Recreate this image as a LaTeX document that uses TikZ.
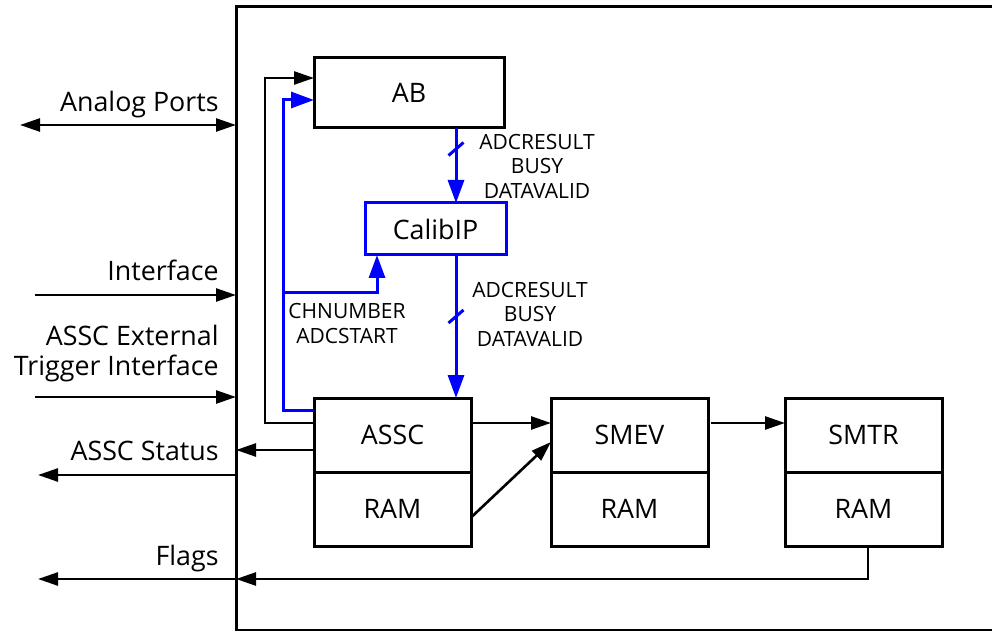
\documentclass[tikz,border=0pt]{standalone}
\usepackage{fontspec}
\setmainfont{Open Sans}
\usepackage{tikz}
\usetikzlibrary{positioning,arrows.meta}
\definecolor{SignalBlue}{HTML}{0000FF}
\definecolor{InkBlack}{HTML}{000000}
\newcommand{\blockfont}{\fontsize{13.4}{15}\selectfont}
\newcommand{\sigtagfont}{\fontsize{10.5}{12.25}\selectfont}

\tikzset{
  unitbox/.style={draw=InkBlack, line width=1.5pt, minimum width=78.5pt,
    minimum height=37pt, inner sep=0pt, outer sep=0pt, font=\blockfont},
  calibbox/.style={draw=SignalBlue, line width=1.5pt, minimum width=70.5pt,
    minimum height=26pt, inner sep=0pt, outer sep=0pt, font=\blockfont},
  sig/.style={draw=InkBlack, line width=1.3pt, -{Triangle[length=10pt,width=6.5pt]}},
  dualsig/.style={sig, {Triangle[length=10pt,width=6.5pt]}-{Triangle[length=10pt,width=6.5pt]}},
  bussig/.style={draw=SignalBlue, line width=1.5pt, -{Triangle[length=11.5pt,width=8pt]}},
  busline/.style={draw=SignalBlue, line width=1.5pt},
  portlabel/.style={anchor=base east, font=\blockfont, inner sep=0pt},
  sigtag/.style={font=\sigtagfont, align=center, inner sep=0pt},
}

\begin{document}
\begin{tikzpicture}[x=0.5pt, y=-0.5pt]
  \useasboundingbox (0,0) rectangle (992,631);

  % chip frame
  \draw[line width=1.5pt] (992,7) -- (236,7) -- (236,630) -- (992,630);

  % blocks
  \node[unitbox, minimum width=95pt, minimum height=35pt] (ab) at (409,93) {AB};
  \node[calibbox] (calib) at (435.5,229) {CalibIP};
  \node[unitbox] (assc) at (392.5,435) {ASSC};
  \node[unitbox, below=0pt of assc] (asscram) {RAM};
  \node[unitbox, right=40pt of assc] (smev) {SMEV};
  \node[unitbox, below=0pt of smev] (smevram) {RAM};
  \node[unitbox, right=38.5pt of smev] (smtr) {SMTR};
  \node[unitbox, below=0pt of smtr] (smtrram) {RAM};

  % ports on the frame
  \coordinate (pAnalog) at (236,125);
  \coordinate (pIface) at (236,295);
  \coordinate (pTrig) at (236,397);
  \coordinate (pStatus) at (236,475);
  \coordinate (pFlags) at (236,579);
  \coordinate (busx) at (456,0);
  \coordinate (tap) at (283,293);

  % outside labels
  \node[portlabel] (lblAnalog) at (219,112) {Analog Ports};
  \node[portlabel] (lblIface) at (219,280) {Interface};
  \node[portlabel, anchor=east, align=right] (lblTrig) at (219,354) {ASSC External\\Trigger Interface};
  \node[portlabel] (lblStatus) at (219,460) {ASSC Status};
  \node[portlabel] (lblFlags) at (219,565) {Flags};

  % outside connectors
  \draw[dualsig] (pAnalog) ++(-108pt,0) -- (pAnalog);
  \draw[sig] (pIface) ++(-100.5pt,0) -- (pIface);
  \draw[sig] (pTrig) ++(-100.5pt,0) -- (pTrig);
  \draw[sig] (pStatus) -- ++(-99pt,0);
  \draw[sig] (pFlags) -- ++(-99pt,0);

  % control to AB and CalibIP
  \draw[sig] ([yshift=6pt]assc.west) -- ++(-24.5pt,0) |- ([yshift=7.5pt]ab.west);
  \draw[bussig] ([yshift=12.5pt]assc.west) -- ++(-15.5pt,0) |- ([yshift=-3.5pt]ab.west);
  \draw[bussig] (tap) -| ([xshift=-29.25pt]calib.south);
  \node[sigtag] (tagCtrl) at (347,323.5) {CHNUMBER\\ADCSTART};

  % result buses
  \draw[bussig] (ab.south -| busx) -- coordinate[pos=0.28] (cutA) (calib.north -| busx);
  \draw[busline] (cutA) ++(-3.75pt,-3.25pt) -- ++(7.5pt,6.5pt);
  \node[sigtag] (tagA) at (537,166) {ADCRESULT\\BUSY\\DATAVALID};
  \draw[bussig] (calib.south -| busx) -- coordinate[pos=0.43] (cutB) (assc.north -| busx);
  \draw[busline] (cutB) ++(-3.75pt,-3.25pt) -- ++(7.5pt,6.5pt);
  \node[sigtag] (tagB) at (530,314) {ADCRESULT\\BUSY\\DATAVALID};

  % pipeline
  \draw[sig] ([yshift=6pt]assc.east) -- ([yshift=6pt]smev.west);
  \draw[sig] ([yshift=-4.25pt]asscram.east) -- ([yshift=-3.5pt]smev.west);
  \draw[sig, shorten <=1.5pt] ([yshift=6pt]smev.east) -- ([yshift=6pt]smtr.west);

  % status and flags
  \draw[sig] ([yshift=-7.5pt]assc.west) -- ++(-39pt,0);
  \draw[sig] ([xshift=2.25pt]smtrram.south) |- (pFlags);
\end{tikzpicture}
\end{document}
